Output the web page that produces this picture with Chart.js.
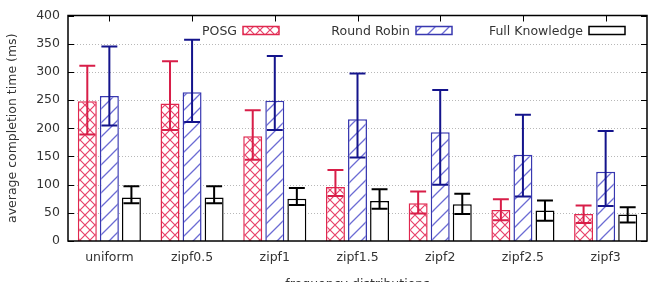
<!DOCTYPE html>
<html>
<head>
<meta charset="utf-8">
<script src="https://cdn.jsdelivr.net/npm/chart.js@4"></script>
<style>
  html, body { margin: 0; padding: 0; overflow: hidden; background: #fff; }
  #wrap { position: absolute; left: 0; top: 0; width: 655px; height: 296px; }
</style>
</head>
<body>
<div id="wrap"><canvas id="chart"></canvas></div>
<script>
const categories = ["uniform", "zipf0.5", "zipf1", "zipf1.5", "zipf2", "zipf2.5", "zipf3"];

const posgMean = [248, 244, 186, 96, 67, 55, 48];
const posgLow = [189, 197, 144, 80, 49, 37, 32];
const posgHigh = [311, 319, 232, 126, 88, 74, 63];

const rrMean = [257, 264, 249, 216, 193, 153, 123];
const rrLow = [205, 211, 197, 148, 100, 79, 62];
const rrHigh = [345, 357, 328, 297, 268, 224, 195];

const fkMean = [77, 77, 75, 71, 65, 54, 47];
const fkLow = [67, 67, 64, 57, 48, 36, 33];
const fkHigh = [97, 97, 94, 92, 84, 72, 60];

const yTicks = [0, 50, 100, 150, 200, 250, 300, 350, 400];

const FONT = "'DejaVu Sans', sans-serif";
const RED = "#e0284f";
const BLUE = "#3838b0";

function crossHatch(color) {
  const c = document.createElement("canvas");
  c.width = c.height = 10;
  const g = c.getContext("2d");
  g.fillStyle = "#fff";
  g.fillRect(0, 0, 10, 10);
  g.strokeStyle = color;
  g.lineWidth = 1.2;
  g.beginPath();
  g.moveTo(-1, -1); g.lineTo(11, 11);
  g.moveTo(11, -1); g.lineTo(-1, 11);
  g.stroke();
  return g.createPattern(c, "repeat");
}

function diagHatch(color) {
  const c = document.createElement("canvas");
  c.width = c.height = 14;
  const g = c.getContext("2d");
  g.fillStyle = "#fff";
  g.fillRect(0, 0, 14, 14);
  g.strokeStyle = color;
  g.lineWidth = 1.3;
  g.beginPath();
  g.moveTo(-1, 15); g.lineTo(15, -1);
  g.moveTo(-3, 3); g.lineTo(3, -3);
  g.moveTo(11, 17); g.lineTo(17, 11);
  g.stroke();
  return g.createPattern(c, "repeat");
}

const posgFill = crossHatch("#e8426a");
const rrFill = diagHatch("#6c6cd4");

const errors = [
  { low: posgLow, high: posgHigh, color: "#d81e48" },
  { low: rrLow, high: rrHigh, color: "#14148c" },
  { low: fkLow, high: fkHigh, color: "#000" },
];

// dotted horizontal grid behind the bars
const dottedGrid = {
  id: "dottedGrid",
  beforeDatasetsDraw(chart) {
    const ctx = chart.ctx;
    const a = chart.chartArea;
    const y = chart.scales.y;
    ctx.save();
    ctx.strokeStyle = "#b8b8b8";
    ctx.lineWidth = 1;
    ctx.setLineDash([1, 2]);
    ctx.beginPath();
    yTicks.slice(1, -1).forEach(v => {
      const py = Math.round(y.getPixelForValue(v)) + 0.5;
      ctx.moveTo(a.left, py); ctx.lineTo(a.right, py);
    });
    ctx.stroke();
    ctx.restore();
  },
};

// error bars with caps at both ends
const errorBars = {
  id: "errorBars",
  afterDatasetsDraw(chart) {
    const ctx = chart.ctx;
    const y = chart.scales.y;
    ctx.save();
    ctx.lineWidth = 2;
    errors.forEach((e, i) => {
      const meta = chart.getDatasetMeta(i);
      ctx.strokeStyle = e.color;
      meta.data.forEach((bar, j) => {
        const yl = y.getPixelForValue(e.low[j]);
        const yh = y.getPixelForValue(e.high[j]);
        const hw = bar.width * 0.42;
        ctx.beginPath();
        ctx.moveTo(bar.x, yl); ctx.lineTo(bar.x, yh);
        ctx.moveTo(bar.x - hw, yh); ctx.lineTo(bar.x + hw, yh);
        ctx.moveTo(bar.x - hw, yl); ctx.lineTo(bar.x + hw, yl);
        ctx.stroke();
      });
    });
    ctx.restore();
  },
};

// gnuplot style frame, inward ticks and key inside the plot
const frame = {
  id: "frame",
  afterDraw(chart) {
    const ctx = chart.ctx;
    const a = chart.chartArea;
    const x = chart.scales.x;
    const y = chart.scales.y;
    ctx.save();
    ctx.strokeStyle = "#000";
    ctx.lineWidth = 1.5;
    ctx.strokeRect(a.left, a.top, a.right - a.left, a.bottom - a.top);
    ctx.lineWidth = 1;
    ctx.beginPath();
    yTicks.forEach(v => {
      const py = Math.round(y.getPixelForValue(v)) + 0.5;
      ctx.moveTo(a.left, py); ctx.lineTo(a.left + 6, py);
      ctx.moveTo(a.right, py); ctx.lineTo(a.right - 6, py);
    });
    categories.forEach((c, i) => {
      const px = Math.round(x.getPixelForValue(i)) + 0.5;
      ctx.moveTo(px, a.top); ctx.lineTo(px, a.top + 6);
    });
    ctx.stroke();

    // key
    const items = [
      { label: "POSG", fill: posgFill, border: RED },
      { label: "Round Robin", fill: rrFill, border: BLUE },
      { label: "Full Knowledge", fill: "#fff", border: "#000" },
    ];
    ctx.font = "12.5px " + FONT;
    ctx.textAlign = "right";
    ctx.textBaseline = "middle";
    const cy = a.top + 15;
    items.forEach((it, k) => {
      const left = a.right - 58 - 173 * (2 - k);
      ctx.fillStyle = it.fill;
      ctx.fillRect(left, cy - 4, 36, 8);
      ctx.strokeStyle = it.border;
      ctx.lineWidth = 1.5;
      ctx.strokeRect(left, cy - 4, 36, 8);
      ctx.fillStyle = "#333";
      ctx.fillText(it.label, left - 6, cy + 1);
    });
    ctx.restore();
  },
};

new Chart(document.getElementById("chart"), {
  type: "bar",
  data: {
    labels: categories,
    datasets: [
      {
        label: "POSG",
        data: posgMean,
        backgroundColor: posgFill,
        borderColor: RED,
        borderWidth: 1.5,
      },
      {
        label: "Round Robin",
        data: rrMean,
        backgroundColor: rrFill,
        borderColor: BLUE,
        borderWidth: 1.5,
      },
      {
        label: "Full Knowledge",
        data: fkMean,
        backgroundColor: "#fff",
        borderColor: "#000",
        borderWidth: 1.5,
      },
    ],
  },
  options: {
    responsive: true,
    maintainAspectRatio: false,
    animation: false,
    categoryPercentage: 0.8,
    barPercentage: 0.86,
    layout: { padding: { left: 0, right: 8, top: 7, bottom: 0 } },
    scales: {
      x: {
        afterFit: s => { s.height = 55; },
        grid: { display: false, drawTicks: false },
        border: { display: false },
        ticks: { color: "#333", padding: 9, font: { family: FONT, size: 12.5 } },
        title: {
          display: true,
          text: "frequency distributions",
          color: "#333",
          padding: { top: 4, bottom: 4 },
          font: { family: FONT, size: 12.5 },
        },
      },
      y: {
        min: 0,
        max: 400,
        afterFit: s => { s.width = 68; },
        afterBuildTicks: s => { s.ticks = yTicks.map(v => ({ value: v })); },
        grid: { display: false, drawTicks: false },
        border: { display: false },
        ticks: { color: "#333", padding: 8, font: { family: FONT, size: 12.5 } },
        title: {
          display: true,
          text: "average completion time (ms)",
          color: "#333",
          padding: { top: 5, bottom: 2 },
          font: { family: FONT, size: 12.5 },
        },
      },
    },
    plugins: {
      legend: { display: false },
      tooltip: { enabled: false },
    },
  },
  plugins: [dottedGrid, errorBars, frame],
});
</script>
</body>
</html>
